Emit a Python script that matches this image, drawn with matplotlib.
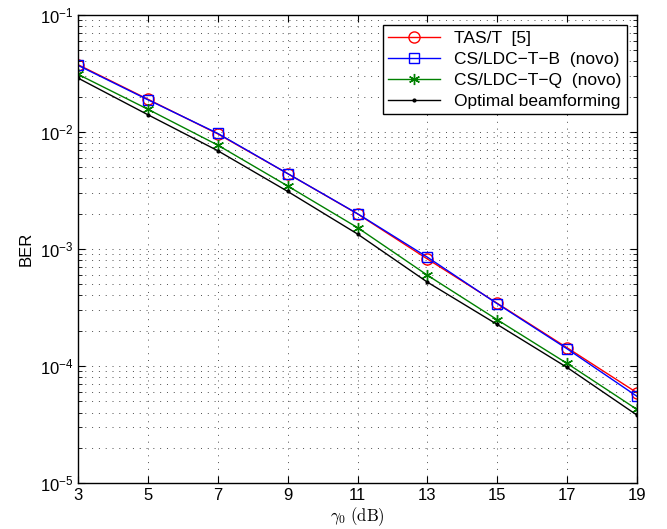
import numpy as np
import matplotlib.pyplot as plt
from matplotlib.ticker import LogLocator, NullFormatter

plt.rcParams['font.family'] = ['Liberation Sans', 'DejaVu Sans']
plt.rcParams['mathtext.fontset'] = 'cm'

# -----------------------------
# Data
snr_db = [3, 5, 7, 9, 11, 13, 15, 17, 19]
ber_tas = [3.75e-2, 1.9e-2, 9.6e-3, 4.4e-3, 1.99e-3, 8.2e-4, 3.43e-4, 1.43e-4, 5.9e-5]
ber_ldc_b = [3.7e-2, 1.88e-2, 9.7e-3, 4.4e-3, 2.0e-3, 8.5e-4, 3.4e-4, 1.4e-4, 5.5e-5]
ber_ldc_q = [3.1e-2, 1.56e-2, 7.7e-3, 3.45e-3, 1.52e-3, 5.96e-4, 2.48e-4, 1.05e-4, 4.25e-5]
ber_opt = [2.88e-2, 1.4e-2, 6.9e-3, 3.1e-3, 1.34e-3, 5.2e-4, 2.26e-4, 9.7e-5, 3.8e-5]

labels = ['TAS/T  [5]', 'CS/LDC\u2212T\u2212B  (novo)',
          'CS/LDC\u2212T\u2212Q  (novo)', 'Optimal beamforming']

# -----------------------------
fig = plt.figure(figsize=(6.67, 5.29), dpi=100)
ax = fig.add_axes([0.117, 0.087, 0.838, 0.885])

ax.semilogy(snr_db, ber_tas, color='red', marker='o', markersize=8,
            markerfacecolor='none', linewidth=1, label=labels[0])
ax.semilogy(snr_db, ber_ldc_b, color='blue', marker='s', markersize=7,
            markerfacecolor='none', linewidth=1, label=labels[1])
ax.semilogy(snr_db, ber_ldc_q, color='green', marker=(6, 2, 0), markersize=8,
            linewidth=1, label=labels[2])
ax.semilogy(snr_db, ber_opt, color='black', marker='.', markersize=4,
            linewidth=1, label=labels[3])

ax.set_xlim(3, 19)
ax.set_ylim(1e-5, 1e-1)
ax.set_xticks(snr_db)
ax.yaxis.set_major_locator(LogLocator(base=10, numticks=10))
ax.yaxis.set_minor_locator(LogLocator(base=10, subs=np.arange(2, 10), numticks=20))
ax.yaxis.set_minor_formatter(NullFormatter())

ax.tick_params(which='both', direction='in', top=True, right=True, labelsize=12)
ax.tick_params(which='major', length=5)
ax.tick_params(which='minor', length=3)
for sp in ax.spines.values():
    sp.set_linewidth(1)

ax.grid(True, which='major', linestyle=(0, (1, 6)), color='0.3', linewidth=0.7)
ax.grid(True, which='minor', linestyle=(0, (1, 6)), color='0.3', linewidth=0.7)

ax.set_xlabel(r'$\gamma_0\ \mathrm{(dB)}$', fontsize=12, labelpad=2)
ax.set_ylabel('BER', fontsize=12)

leg = ax.legend(loc='upper right', fontsize=12.5, fancybox=False, framealpha=1,
                edgecolor='black', handlelength=3, borderpad=0.3,
                labelspacing=0.35, borderaxespad=0.6)
leg.get_frame().set_linewidth(1)

fig.savefig('out.png', dpi=100)
